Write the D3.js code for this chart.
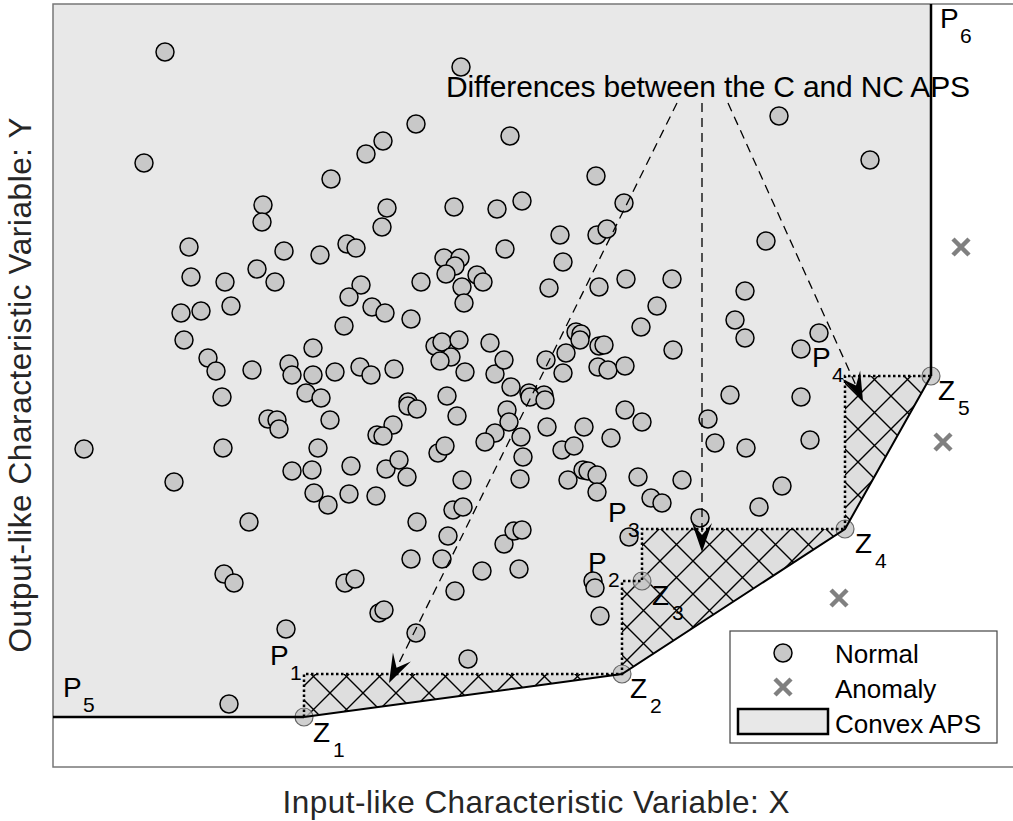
<!DOCTYPE html>
<html>
<meta charset="utf-8">
<head>
  <title>Convex vs non-convex APS</title>
</head>
<style>
body { margin: 0; background: #fff; }
text { font-family: "Liberation Sans", Arial, sans-serif; }
</style>
<body>
<svg id="chart" width="1013" height="821"></svg>

<script src="https://d3js.org/d3.v7.min.js"></script>
<script>
// normal observations [X, Y]
var normalPts = [
  [1.12,7.15],[0.91,6.04],[4.08,7.00],[3.63,6.43],[3.30,6.26],[3.13,6.13],[2.78,5.88],[2.10,5.62],
  [2.09,5.45],[3.34,5.59],[3.29,5.40],[4.01,5.60],[4.44,5.58],[4.69,5.66],[4.57,6.31],[5.43,5.91],
  [5.71,5.64],[7.26,6.51],[8.17,6.07],[1.36,5.20],[2.31,5.16],[2.67,5.12],[2.94,5.23],[3.03,5.19],
  [4.52,5.18],[3.91,5.09],[4.07,5.09],[4.02,5.01],[3.93,4.93],[4.24,4.92],[4.30,4.85],[4.09,4.80],
  [4.11,4.64],[3.68,4.85],[3.08,4.82],[2.96,4.70],[3.19,4.60],[3.32,4.54],[3.58,4.48],[2.91,4.41],
  [1.38,4.90],[1.72,4.85],[2.04,4.98],[2.22,4.85],[1.28,4.54],[1.48,4.56],[1.78,4.61],[1.31,4.27],
  [1.55,4.09],[1.63,3.96],[1.99,3.97],[2.36,4.03],[2.39,3.92],[2.60,4.19],[2.60,3.92],[2.82,3.95],
  [3.07,4.00],[3.18,3.92],[3.41,3.98],[3.82,4.21],[3.89,4.25],[4.06,4.27],[3.98,4.10],[3.87,4.06],
  [4.12,3.95],[4.37,4.24],[4.42,3.93],[4.51,4.07],[1.69,3.70],[2.53,3.74],[2.68,3.69],[3.55,3.65],
  [3.94,3.71],[5.07,5.32],[5.44,5.32],[5.54,5.38],[7.13,5.26],[5.10,5.05],[4.96,4.79],[5.46,4.80],
  [5.73,4.88],[6.19,4.88],[6.92,4.76],[6.04,4.61],[5.88,4.40],[6.82,4.47],[6.92,4.29],[7.66,4.34],
  [7.48,4.18],[5.23,4.35],[5.28,4.33],[5.27,4.27],[5.46,4.21],[5.51,4.22],[6.20,4.17],[4.93,4.07],
  [5.13,4.14],[5.10,3.94],[5.45,4.00],[5.55,3.97],[5.72,4.01],[4.58,3.80],[4.76,3.74],[4.91,3.72],
  [6.77,3.72],[7.48,3.70],[0.31,3.18],[1.70,3.19],[1.21,2.85],[1.96,2.45],[1.71,1.93],[1.81,1.84],
  [2.33,1.38],[1.76,0.63],[2.15,3.48],[2.24,3.47],[2.26,3.38],[2.77,3.47],[3.55,3.61],[3.64,3.58],
  [3.40,3.42],[3.24,3.32],[3.30,3.31],[2.65,3.19],[2.39,2.96],[2.59,2.97],[2.98,3.01],[3.33,2.98],
  [3.46,3.07],[3.54,2.90],[3.85,3.14],[3.92,3.21],[2.61,2.74],[2.75,2.62],[2.96,2.73],[3.23,2.71],
  [3.64,2.45],[4.00,2.57],[4.10,2.60],[3.95,2.31],[3.58,2.08],[3.89,2.08],[2.92,1.84],[3.02,1.88],
  [3.26,1.54],[3.31,1.57],[3.63,1.34],[4.15,1.08],[4.04,3.51],[4.09,2.87],[4.29,1.96],[4.02,1.76],
  [4.77,3.70],[4.92,3.67],[4.54,3.57],[4.56,3.45],[4.42,3.34],[4.32,3.25],[4.68,3.30],[4.94,3.40],
  [4.70,3.10],[4.67,2.88],[5.31,3.40],[5.58,3.29],[5.72,3.57],[5.89,3.45],[5.09,3.17],[5.21,3.21],
  [5.30,2.97],[5.35,2.96],[5.44,2.92],[5.15,2.87],[5.44,2.75],[5.85,2.90],[5.98,2.69],[6.09,2.64],
  [6.29,2.87],[6.55,3.48],[6.62,3.24],[6.93,3.19],[7.57,3.27],[7.29,2.81],[7.06,2.60],[6.47,2.49],
  [5.76,2.30],[4.51,2.23],[4.61,2.36],[4.69,2.37],[4.66,1.98],[5.40,1.86],[5.42,1.79],[5.47,1.51]
]

// anomalies [X, Y]
var anomalyPts = [[9.08,5.20],[8.90,3.25],[7.86,1.69]]

// frontier points Z1..Z5
var frontier = [[2.51,0.50],[5.69,0.93],[5.89,1.86],[7.92,2.38],[8.78,3.91]]
// which Z points lie on the convex hull
var hullIdx = [0, 1, 3, 4]

// annotation arrows: [x0, y0, x1, y1]
var arrows = [
  [6.24,6.64, 3.36,0.84],
  [6.49,6.64, 6.49,2.15],
  [6.75,6.64, 8.10,3.66]
]
var noteText = 'Differences between the C and NC APS'
var notePos = [6.55, 6.70]

var xDomain = [0, 9.6], yDomain = [0, 7.63]

var svg = d3.select('#chart')
var x = d3.scaleLinear().domain(xDomain).range([53, 1013])
var y = d3.scaleLinear().domain(yDomain).range([767, 4])

var xmin = xDomain[0], ymax = yDomain[1]
var Z = frontier
// P points: corners of the free disposal staircase
var P = [
  [Z[0][0], Z[1][1]],
  [Z[1][0], Z[2][1]],
  [Z[2][0], Z[3][1]],
  [Z[3][0], Z[4][1]],
  [xmin, Z[0][1]],
  [Z[4][0], ymax]
]

var defs = svg.append('defs')
var pat = defs.append('pattern')
  .attr('id', 'hatch')
  .attr('patternUnits', 'userSpaceOnUse')
  .attr('width', 33).attr('height', 33)
pat.append('rect').attr('width', 33).attr('height', 33).attr('fill', '#dedede')
pat.append('path')
  .attr('d', 'M0,0L33,33M0,33L33,0M-5,28L5,38M28,-5L38,5M-5,5L5,-5M28,38L38,28')
  .attr('stroke', '#000').attr('stroke-width', 1.4)

var line = d3.line().x(function(d) { return x(d[0]) }).y(function(d) { return y(d[1]) })

// convex APS
var hull = hullIdx.map(function(i) { return Z[i] })
var convexPoly = [[xmin, ymax], P[4]].concat(hull).concat([P[5]])
svg.append('path')
  .attr('d', line(convexPoly) + 'Z')
  .attr('fill', '#e8e8e8')

// hatched difference between convex and non-convex
var stair = [Z[0], P[0], Z[1], P[1], Z[2], P[2], Z[3], P[3], Z[4]]
var diffPoly = stair.concat(hull.slice().reverse())
svg.append('path')
  .attr('d', line(diffPoly) + 'Z')
  .attr('fill', 'url(#hatch)')

// frame
svg.append('rect')
  .attr('x', x(xDomain[0])).attr('y', y(yDomain[1]))
  .attr('width', 980).attr('height', y(yDomain[0]) - y(yDomain[1]))
  .attr('fill', 'none').attr('stroke', '#777').attr('stroke-width', 1.5)

// normal points
svg.append('g').selectAll('circle')
  .data(normalPts)
  .enter().append('circle')
  .attr('cx', function(d) { return x(d[0]) })
  .attr('cy', function(d) { return y(d[1]) })
  .attr('r', 9)
  .attr('fill', '#c8c8c8')
  .attr('stroke', '#000')
  .attr('stroke-width', 1.5)

// frontier points
svg.append('g').selectAll('circle')
  .data(Z)
  .enter().append('circle')
  .attr('cx', function(d) { return x(d[0]) })
  .attr('cy', function(d) { return y(d[1]) })
  .attr('r', 9)
  .attr('fill', '#c0c0c0')
  .attr('fill-opacity', 0.75)
  .attr('stroke', '#666')
  .attr('stroke-width', 1.2)

// boundaries
svg.append('path').attr('d', line([P[4], Z[0]]))
  .attr('stroke', '#000').attr('stroke-width', 2.5).attr('fill', 'none')
svg.append('path').attr('d', line([Z[4], P[5]]))
  .attr('stroke', '#000').attr('stroke-width', 2.5).attr('fill', 'none')
svg.append('path').attr('d', line(hull))
  .attr('stroke', '#000').attr('stroke-width', 2).attr('fill', 'none')
svg.append('path').attr('d', line(stair))
  .attr('stroke', '#000').attr('stroke-width', 2.5).attr('fill', 'none')
  .attr('stroke-dasharray', '2.5,2.5')

// anomalies
function cross(g, cx, cy, h) {
  g.append('path')
    .attr('d', 'M' + (cx - h) + ',' + (cy - h) + 'L' + (cx + h) + ',' + (cy + h) +
               'M' + (cx - h) + ',' + (cy + h) + 'L' + (cx + h) + ',' + (cy - h))
    .attr('stroke', '#808080').attr('stroke-width', 4.5).attr('fill', 'none')
}
var ag = svg.append('g')
anomalyPts.forEach(function(d) { cross(ag, x(d[0]), y(d[1]), 8) })

// annotation arrows
var arrG = svg.append('g')
arrows.forEach(function(a) {
  var x0 = x(a[0]), y0 = y(a[1]), x1 = x(a[2]), y1 = y(a[3])
  var ang = Math.atan2(y1 - y0, x1 - x0)
  var len = 29
  arrG.append('line')
    .attr('x1', x0).attr('y1', y0)
    .attr('x2', x1 - Math.cos(ang) * 19).attr('y2', y1 - Math.sin(ang) * 19)
    .attr('stroke', '#000').attr('stroke-width', 1.3)
    .attr('stroke-dasharray', '9,6')
  arrG.append('path')
    .attr('d', 'M0,0L' + (-len) + ',-10L-17,0L' + (-len) + ',10Z')
    .attr('transform', 'translate(' + x1 + ',' + y1 + ') rotate(' + (ang * 180 / Math.PI) + ')')
    .attr('fill', '#000')
})

svg.append('text')
  .attr('x', x(notePos[0])).attr('y', y(notePos[1]))
  .attr('text-anchor', 'middle')
  .attr('font-size', 30)
  .attr('textLength', 524).attr('lengthAdjust', 'spacing')
  .text(noteText)

// point labels
var labels = [
  {t: 'P', s: '1', p: P[0], dx: -34, dy: -9},
  {t: 'P', s: '2', p: P[1], dx: -34, dy: -9},
  {t: 'P', s: '3', p: P[2], dx: -34, dy: -7},
  {t: 'P', s: '4', p: P[3], dx: -33, dy: -9},
  {t: 'P', s: '5', p: P[4], dx: 10, dy: -20},
  {t: 'P', s: '6', p: P[5], dx: 9, dy: 24},
  {t: 'Z', s: '1', p: Z[0], dx: 9, dy: 25},
  {t: 'Z', s: '2', p: Z[1], dx: 8, dy: 24},
  {t: 'Z', s: '3', p: Z[2], dx: 10, dy: 24},
  {t: 'Z', s: '4', p: Z[3], dx: 10, dy: 24},
  {t: 'Z', s: '5', p: Z[4], dx: 7, dy: 24}
]
var lg = svg.append('g')
labels.forEach(function(l) {
  var lx = x(l.p[0]) + l.dx, ly = y(l.p[1]) + l.dy
  lg.append('text').attr('x', lx).attr('y', ly).attr('font-size', 28).text(l.t)
  lg.append('text').attr('x', lx + 20).attr('y', ly + 15).attr('font-size', 21).text(l.s)
})

// legend
var leg = svg.append('g')
leg.append('rect').attr('x', 730).attr('y', 631).attr('width', 267).attr('height', 112)
  .attr('fill', '#fff').attr('stroke', '#444').attr('stroke-width', 1.2)
leg.append('circle').attr('cx', 783).attr('cy', 653).attr('r', 9)
  .attr('fill', '#c8c8c8').attr('stroke', '#000').attr('stroke-width', 1.5)
cross(leg, 783, 687, 8)
leg.append('rect').attr('x', 738).attr('y', 709).attr('width', 90).attr('height', 25)
  .attr('fill', '#e8e8e8').attr('stroke', '#000').attr('stroke-width', 2.5)
var legNames = ['Normal', 'Anomaly', 'Convex APS']
leg.selectAll('text.lt').data(legNames).enter().append('text')
  .attr('class', 'lt')
  .attr('x', 835)
  .attr('y', function(d, i) { return 663 + i * 35 })
  .attr('font-size', 26)
  .text(function(d) { return d })

// axis titles
svg.append('text')
  .attr('x', 536).attr('y', 813)
  .attr('text-anchor', 'middle')
  .attr('font-size', 31.5).attr('fill', '#262626')
  .attr('textLength', 507).attr('lengthAdjust', 'spacing')
  .text('Input-like Characteristic Variable: X')
svg.append('text')
  .attr('transform', 'translate(31,385) rotate(-90)')
  .attr('text-anchor', 'middle')
  .attr('font-size', 31.5).attr('fill', '#262626')
  .attr('textLength', 535).attr('lengthAdjust', 'spacing')
  .text('Output-like Characteristic Variable: Y')
</script>
</body>
</html>
